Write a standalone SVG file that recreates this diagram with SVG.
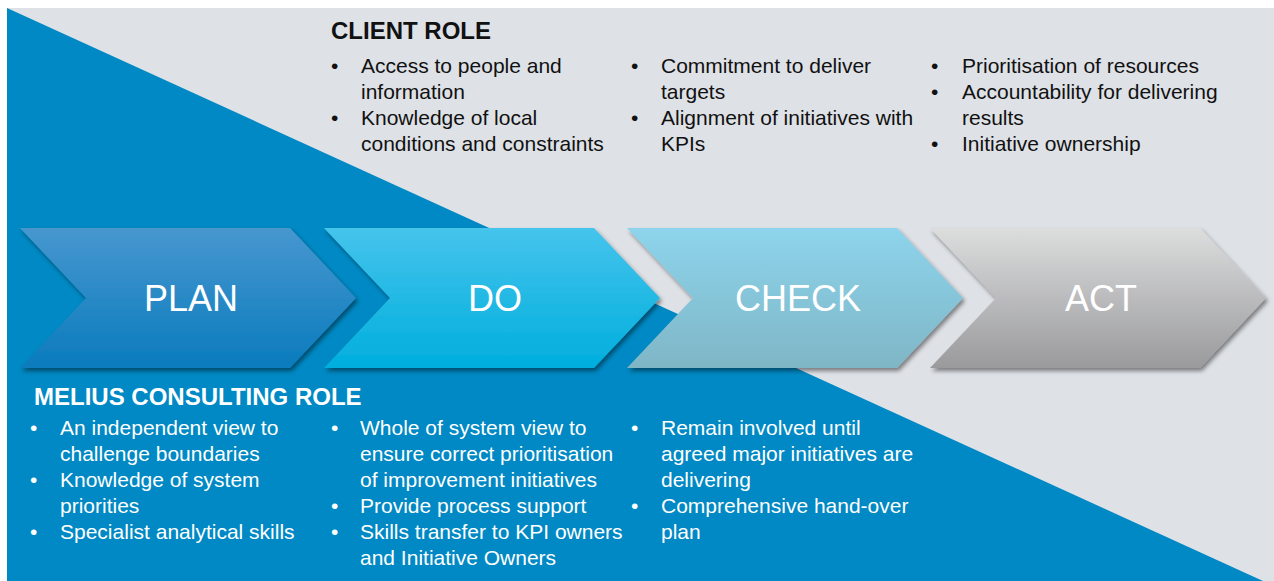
<svg xmlns="http://www.w3.org/2000/svg" width="1274" height="581" viewBox="0 0 1274 581">
<defs>
<style>
.t{font-family:"Liberation Sans",Arial,sans-serif;font-size:21px;}
.dark{fill:#111;}
.light{fill:#fff;}
.h{font-family:"Liberation Sans",Arial,sans-serif;font-size:24px;font-weight:bold;}
.lbl{font-family:"Liberation Sans",Arial,sans-serif;font-size:36px;fill:#fff;text-anchor:middle;}
</style>
<linearGradient id="gPlan" x1="0" y1="0" x2="0" y2="1"><stop offset="0" stop-color="#4797CF"/><stop offset="1" stop-color="#0A7BBD"/></linearGradient>
<linearGradient id="gDo" x1="0" y1="0" x2="0" y2="1"><stop offset="0" stop-color="#45C4EC"/><stop offset="1" stop-color="#00AEDD"/></linearGradient>
<linearGradient id="gCheck" x1="0" y1="0" x2="0" y2="1"><stop offset="0" stop-color="#8DD4EC"/><stop offset="1" stop-color="#7FB6C6"/></linearGradient>
<linearGradient id="gAct" x1="0" y1="0" x2="0" y2="1"><stop offset="0" stop-color="#DCDDDD"/><stop offset="1" stop-color="#9A9A9D"/></linearGradient>
<filter id="sh" x="-10%" y="-10%" width="125%" height="130%"><feDropShadow dx="2" dy="3" stdDeviation="2" flood-color="#000" flood-opacity="0.45"/></filter>
<polygon id="chev" points="0,0 270,0 336,70 270,140 0,140 66,70"/>
</defs>
<rect x="7" y="8" width="1267" height="573" fill="#DEE1E6"/>
<polygon points="7,8 1263,581 7,581" fill="#0089C4"/>
<g id="connectors"></g>
<g id="plan"><use href="#chev" x="20" y="228" fill="url(#gPlan)" filter="url(#sh)"/><text class="lbl" x="191" y="311">PLAN</text></g>
<g id="do"><use href="#chev" x="324" y="228" fill="url(#gDo)" filter="url(#sh)"/><text class="lbl" x="495" y="311">DO</text></g>
<g id="check"><use href="#chev" x="627" y="228" fill="url(#gCheck)" filter="url(#sh)"/><text class="lbl" x="798" y="311">CHECK</text></g>
<g id="act"><use href="#chev" x="930" y="228" fill="url(#gAct)" filter="url(#sh)"/><text class="lbl" x="1101" y="311">ACT</text></g>
<g id="client-role">
<text class="h dark" x="331" y="39">CLIENT ROLE</text>
<g class="t dark">
<text x="331" y="73">•</text><text x="361" y="73">Access to people and</text>
<text x="361" y="99">information</text>
<text x="331" y="125">•</text><text x="361" y="125">Knowledge of local</text>
<text x="361" y="151">conditions and constraints</text>
<text x="631" y="73">•</text><text x="661" y="73">Commitment to deliver</text>
<text x="661" y="99">targets</text>
<text x="631" y="125">•</text><text x="661" y="125">Alignment of initiatives with</text>
<text x="661" y="151">KPIs</text>
<text x="931" y="73">•</text><text x="962" y="73">Prioritisation of resources</text>
<text x="931" y="99">•</text><text x="962" y="99">Accountability for delivering</text>
<text x="962" y="125">results</text>
<text x="931" y="151">•</text><text x="962" y="151">Initiative ownership</text>
</g>
</g>
<g id="melius-role">
<text class="h light" x="34" y="405">MELIUS CONSULTING ROLE</text>
<g class="t light">
<text x="30" y="435">•</text><text x="60" y="435">An independent view to</text>
<text x="60" y="461">challenge boundaries</text>
<text x="30" y="487">•</text><text x="60" y="487">Knowledge of system</text>
<text x="60" y="513">priorities</text>
<text x="30" y="539">•</text><text x="60" y="539">Specialist analytical skills</text>
<text x="331" y="435">•</text><text x="360" y="435">Whole of system view to</text>
<text x="360" y="461">ensure correct prioritisation</text>
<text x="360" y="487">of improvement initiatives</text>
<text x="331" y="513">•</text><text x="360" y="513">Provide process support</text>
<text x="331" y="539">•</text><text x="360" y="539">Skills transfer to KPI owners</text>
<text x="360" y="565">and Initiative Owners</text>
<text x="631" y="435">•</text><text x="661" y="435">Remain involved until</text>
<text x="661" y="461">agreed major initiatives are</text>
<text x="661" y="487">delivering</text>
<text x="631" y="513">•</text><text x="661" y="513">Comprehensive hand-over</text>
<text x="661" y="539">plan</text>
</g>
</g>
</svg>
